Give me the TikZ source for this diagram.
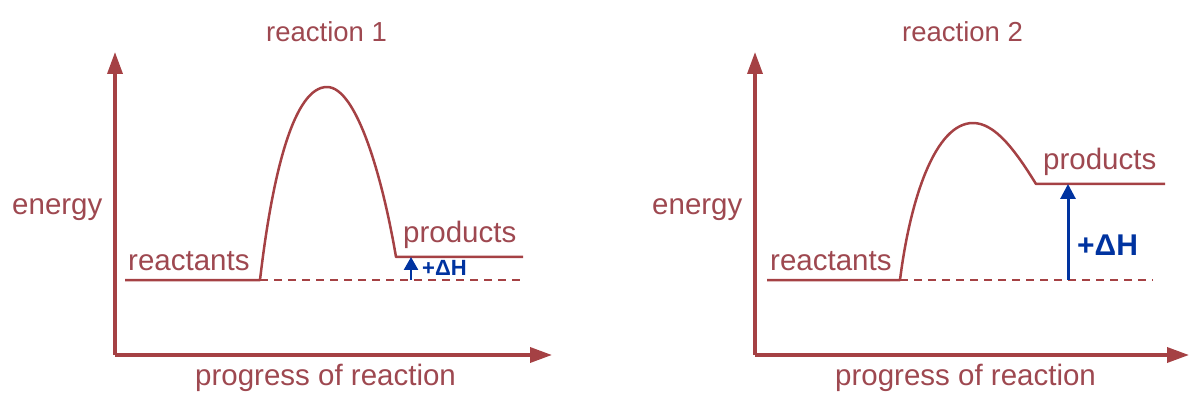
\documentclass[tikz,border=0pt]{standalone}
\usepackage{fontspec}
\setmainfont{Liberation Sans}
\usetikzlibrary{arrows.meta}
\definecolor{axiscol}{RGB}{165,65,68}
\definecolor{txtcol}{RGB}{158,72,80}
\definecolor{dhblue}{RGB}{0,51,160}
\begin{document}
\begin{tikzpicture}[x=1pt,y=-1pt,
  axis/.style={draw=axiscol,line width=3.5pt,-{Triangle[length=22pt,width=15pt]}},
  curve/.style={draw=axiscol,line width=2.5pt,line join=round},
  dashline/.style={draw=axiscol,line width=1.8pt,dash pattern=on 8pt off 6pt},
  lbl/.style={text=txtcol,inner sep=0pt,anchor=base west,font=\fontsize{29.5}{33}\selectfont},
  ttl/.style={text=txtcol,inner sep=0pt,anchor=base west,font=\fontsize{27.5}{31}\selectfont},
  dharrow/.style={draw=dhblue,line width=3pt,-{Triangle[length=15pt,width=15pt]}},
  dhsmall/.style={draw=dhblue,line width=2.5pt,-{Triangle[length=13pt,width=14pt]}},
  dhlbl/.style={text=dhblue,inner sep=0pt,anchor=base west,font=\bfseries}]
\useasboundingbox (0,0) rectangle (1189,398);
% ---------- reaction 1 ----------
\coordinate (o1) at (115,355);
\coordinate (yt1) at (115,52);
\coordinate (xt1) at (552,355);
\coordinate (r1s) at (125,280);
\coordinate (r1e) at (260,280);
\coordinate (pk1) at (327,87);
\coordinate (p1s) at (396,257);
\coordinate (p1e) at (523,257);
\coordinate (d1e) at (523,280);
\coordinate (a1b) at (411,280);
\coordinate (a1t) at (411,257);
\draw[axis] (o1) -- (yt1);
\draw[axis] (o1) -- (xt1);
\draw[curve] (r1s) -- (r1e) .. controls (273,168) and (295,87) .. (pk1)
  .. controls (357,87) and (383,180) .. (p1s) -- (p1e);
\draw[dashline] (r1e) -- (d1e);
\draw[dhsmall] (a1b) -- (a1t);
\node[ttl] (t1) at (266,42) {reaction 1};
\node[lbl] (e1) at (12,215) {energy};
\node[lbl] (x1) at (195,385) {progress of reaction};
\node[lbl] (re1) at (128,270) {reactants};
\node[lbl] (pr1) at (403,243) {products};
\node[dhlbl,font=\bfseries\fontsize{22}{25}\selectfont] (dh1) at (422,276) {+ΔH};
% ---------- reaction 2 ----------
\coordinate (o2) at (755,355);
\coordinate (yt2) at (755,52);
\coordinate (xt2) at (1189,355);
\coordinate (r2s) at (767,280);
\coordinate (r2e) at (900,280);
\coordinate (pk2) at (973,123);
\coordinate (p2s) at (1036,184);
\coordinate (p2e) at (1165,184);
\coordinate (d2e) at (1153,280);
\coordinate (a2b) at (1068,280);
\coordinate (a2t) at (1068,184);
\draw[axis] (o2) -- (yt2);
\draw[axis] (o2) -- (xt2);
\draw[curve] (r2s) -- (r2e) .. controls (910,200) and (935,123) .. (pk2)
  .. controls (995,123) and (1015,150) .. (p2s) -- (p2e);
\draw[dashline] (r2e) -- (d2e);
\draw[dharrow] (a2b) -- (a2t);
\node[ttl] (t2) at (902,42) {reaction 2};
\node[lbl] (e2) at (652,215) {energy};
\node[lbl] (x2) at (835,385) {progress of reaction};
\node[lbl] (re2) at (770,270) {reactants};
\node[lbl] (pr2) at (1043,170) {products};
\node[dhlbl,font=\bfseries\fontsize{30}{34}\selectfont] (dh2) at (1077,256) {+ΔH};
\end{tikzpicture}
\end{document}
